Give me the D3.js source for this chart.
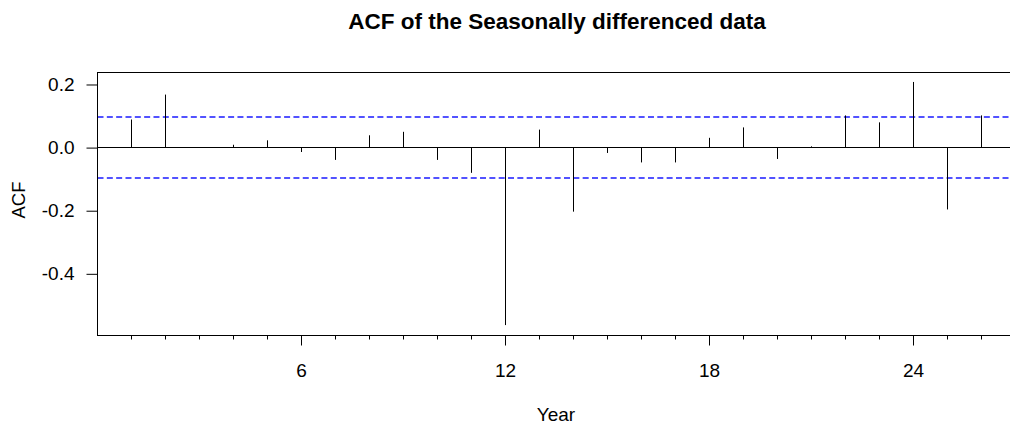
<!DOCTYPE html>
<html>
<head>
<meta charset="utf-8">
<script src="https://cdn.jsdelivr.net/npm/d3@7"></script>
<style>
  html, body { margin: 0; padding: 0; background: #fff; }
  svg { display: block; }
  text { font-family: "Liberation Sans", Arial, sans-serif; fill: #000; }
</style>
</head>
<body>
<svg id="chart" width="1010" height="428"></svg>
<script>
const title = "ACF of the Seasonally differenced data";
const xLabel = "Year";
const yLabel = "ACF";
const lags = [1,2,3,4,5,6,7,8,9,10,11,12,13,14,15,16,17,18,19,20,21,22,23,24,25,26];
const acfValues = [0.089,0.168,0.0,0.009,0.023,-0.014,-0.039,0.039,0.050,-0.039,-0.080,-0.5625,0.057,-0.203,-0.017,-0.047,-0.047,0.031,0.064,-0.036,0.004,0.102,0.080,0.208,-0.196,0.102];
const confLimit = 0.097;
const xMajorTicks = [6,12,18,24];
const yTicks = [0.2, 0.0, -0.2, -0.4];
const yTickLabels = ["0.2", "0.0", "-0.2", "-0.4"];

(function () {
const svg = d3.select("#chart");
const pLeft = 97.5, pTop = 72.5, pBottom = 335.5, pRight = 97.5 + 27 * 34;
const x = d3.scaleLinear().domain([0, 27]).range([pLeft, pRight]);
const y = d3.scaleLinear().domain([-0.5955, 0.238]).range([pBottom, pTop]);

// title
svg.append("text").attr("x", 557).attr("y", 29)
  .attr("text-anchor", "middle").attr("font-weight", "bold").attr("font-size", 22.5)
  .text(title);

// confidence lines
[confLimit, -confLimit].forEach(v => {
  svg.append("line")
    .attr("x1", pLeft).attr("x2", pRight)
    .attr("y1", Math.round(y(v))).attr("y2", Math.round(y(v)))
    .attr("stroke", "#1a1aff").attr("stroke-width", 1.4)
    .attr("stroke-dasharray", "6,3.33");
});

// zero line
const y0 = Math.floor(y(0)) + 0.5;
svg.append("line").attr("x1", pLeft).attr("x2", pRight)
  .attr("y1", y0).attr("y2", y0)
  .attr("stroke", "#000").attr("stroke-width", 1);

// spikes
svg.append("g").selectAll("line").data(lags).join("line")
  .attr("x1", (d) => Math.floor(x(d)) + 0.5)
  .attr("x2", (d) => Math.floor(x(d)) + 0.5)
  .attr("y1", y0)
  .attr("y2", (d, i) => y(acfValues[i]))
  .attr("stroke", "#000").attr("stroke-width", 1);

// box
svg.append("rect").attr("x", pLeft).attr("y", pTop)
  .attr("width", pRight - pLeft).attr("height", pBottom - pTop)
  .attr("fill", "none").attr("stroke", "#000").attr("stroke-width", 1);

// y axis
const yAxis = d3.axisLeft(y).tickValues(yTicks)
  .tickFormat((d, i) => yTickLabels[i]).tickSize(11).tickPadding(12);
const gy = svg.append("g").attr("transform", `translate(${pLeft},0)`).call(yAxis);
gy.select(".domain").remove();
gy.selectAll("text").attr("font-size", 19).attr("font-family", "Liberation Sans, Arial, sans-serif").attr("fill", "#000");
gy.selectAll("line").attr("stroke", "#000");

// x axis minor ticks (every lag)
const xMinor = d3.axisBottom(x).tickValues(lags.filter(l => !xMajorTicks.includes(l))).tickSize(4).tickFormat("");
const gxm = svg.append("g").attr("transform", `translate(-0.5,${pBottom})`).call(xMinor);
gxm.select(".domain").remove();
gxm.selectAll("line").attr("stroke", "#000");

const xAxis = d3.axisBottom(x).tickValues(xMajorTicks).tickSize(10).tickPadding(18).tickFormat(d3.format("d"));
const gx = svg.append("g").attr("transform", `translate(-0.5,${pBottom})`).call(xAxis);
gx.select(".domain").remove();
gx.selectAll("text").attr("font-size", 19).attr("font-family", "Liberation Sans, Arial, sans-serif").attr("fill", "#000");
gx.selectAll("line").attr("stroke", "#000");

// axis titles
svg.append("text").attr("x", 556).attr("y", 421)
  .attr("text-anchor", "middle").attr("font-size", 19).text(xLabel);
svg.append("text").attr("transform", "translate(25,200) rotate(-90)")
  .attr("text-anchor", "middle").attr("font-size", 18.5).text(yLabel);
})();
</script>
</body>
</html>
